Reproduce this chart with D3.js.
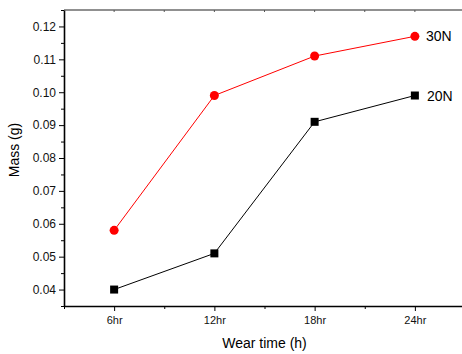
<!DOCTYPE html>
<html>
<head>
<meta charset="utf-8">
<script src="https://cdn.jsdelivr.net/npm/d3@7"></script>
<style>
  body { margin: 0; background: #fff; }
  svg { display: block; font-family: Arial, "Liberation Sans", sans-serif; }
</style>
</head>
<body>
<svg width="462" height="354"></svg>
<script>
const categories = ["6hr", "12hr", "18hr", "24hr"];
const mass30N = [0.058, 0.099, 0.111, 0.117];
const mass20N = [0.040, 0.051, 0.091, 0.099];
const yTicks = [0.04, 0.05, 0.06, 0.07, 0.08, 0.09, 0.10, 0.11, 0.12];

const svg = d3.select("svg"),
    plotLeft = 64, plotRight = 465, plotTop = 10, plotBottom = 306;

// categories sit at 1..4, axis spans half a step either side
const x = d3.scaleLinear().domain([0.5, 4.5]).range([plotLeft, plotRight]);
const y = d3.scaleLinear().domain([0.035, 0.125]).range([plotBottom, plotTop]);

// top frame
svg.append("line")
  .attr("x1", plotLeft).attr("x2", plotRight)
  .attr("y1", plotTop).attr("y2", plotTop)
  .attr("stroke", "#6b6b6b").attr("stroke-width", 1.6);
svg.append("g")
  .selectAll("line")
  .data([1, 1.5, 2, 2.5, 3, 3.5, 4])
  .join("line")
    .attr("x1", d => x(d)).attr("x2", d => x(d))
    .attr("y1", plotTop).attr("y2", plotTop + 2)
    .attr("stroke", "#555").attr("stroke-width", 1);

// x axis
const xAxis = svg.append("g")
  .attr("transform", `translate(0,${plotBottom})`)
  .call(d3.axisBottom(x)
    .tickValues([1, 2, 3, 4])
    .tickFormat(d => categories[d - 1])
    .tickSize(5).tickSizeOuter(0).tickPadding(5));
xAxis.select(".domain").attr("stroke-width", 1.6);
xAxis.selectAll("text").attr("font-size", 11).attr("fill", "#111")
  .attr("font-family", "Arial, 'Liberation Sans', sans-serif");
svg.append("g")
  .attr("transform", `translate(0,${plotBottom})`)
  .call(d3.axisBottom(x).tickValues([0.5, 1.5, 2.5, 3.5]).tickFormat("").tickSize(3).tickSizeOuter(0))
  .select(".domain").remove();

// y axis
const yAxis = svg.append("g")
  .attr("transform", `translate(${plotLeft},0)`)
  .call(d3.axisLeft(y)
    .tickValues(yTicks)
    .tickFormat(d3.format(".2f"))
    .tickSize(5).tickSizeOuter(0).tickPadding(3));
yAxis.select(".domain").attr("stroke-width", 1.6);
yAxis.selectAll("text").attr("font-size", 12).attr("fill", "#111")
  .attr("font-family", "Arial, 'Liberation Sans', sans-serif");
svg.append("g")
  .attr("transform", `translate(${plotLeft},0)`)
  .call(d3.axisLeft(y).tickValues(d3.range(0.035, 0.126, 0.01)).tickFormat("").tickSize(3).tickSizeOuter(0))
  .select(".domain").remove();

// axis titles
svg.append("text")
  .attr("x", (plotLeft + plotRight) / 2).attr("y", 348)
  .attr("text-anchor", "middle").attr("font-size", 14)
  .text("Wear time (h)");
svg.append("text")
  .attr("transform", "translate(19,150) rotate(-90)")
  .attr("text-anchor", "middle").attr("font-size", 14)
  .text("Mass (g)");

const line = d3.line().x((d, i) => x(i + 1)).y(d => y(d));

// 30N series
svg.append("path").datum(mass30N)
  .attr("d", line).attr("fill", "none").attr("stroke", "red").attr("stroke-width", 1);
svg.append("g").selectAll("circle").data(mass30N)
  .join("circle")
    .attr("cx", (d, i) => x(i + 1)).attr("cy", d => y(d))
    .attr("r", 4.5).attr("fill", "red");

// 20N series
svg.append("path").datum(mass20N)
  .attr("d", line).attr("fill", "none").attr("stroke", "black").attr("stroke-width", 1);
svg.append("g").selectAll("rect").data(mass20N)
  .join("rect")
    .attr("x", (d, i) => x(i + 1) - 4).attr("y", d => y(d) - 4)
    .attr("width", 8).attr("height", 8).attr("fill", "black");

// series labels
svg.append("text")
  .attr("x", x(4) + 11).attr("y", y(mass30N[3]) + 5)
  .attr("font-size", 14).text("30N");
svg.append("text")
  .attr("x", x(4) + 12).attr("y", y(mass20N[3]) + 5)
  .attr("font-size", 14).text("20N");
</script>
</body>
</html>
